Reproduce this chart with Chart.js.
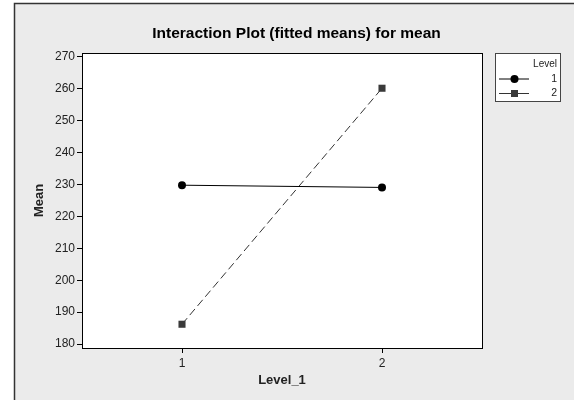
<!DOCTYPE html>
<html>
<head>
<meta charset="utf-8">
<script src="https://cdn.jsdelivr.net/npm/chart.js"></script>
<style>
  html, body { margin: 0; padding: 0; background: #fff; }
  #wrap { width: 574px; height: 400px; }
</style>
</head>
<body>
<div id="wrap"><canvas id="chart" width="574" height="400"></canvas></div>
<script>
// Data
const level1Values = [1, 2];            // x categories (Level_1)
const meansLevel1 = [229.8, 229.1];     // Level = 1
const meansLevel2 = [186.2, 260.2];     // Level = 2
const seriesNames = ["1", "2"];
const yTicks = [180, 190, 200, 210, 220, 230, 240, 250, 260, 270];
const xTicks = [1, 2];
const chartTitle = "Interaction Plot (fitted means) for mean";

const FONT = "'Liberation Sans', Arial, sans-serif";

// background, title, plot frame and legend box
const frame = {
    id: "frame",
    beforeDraw(chart) {
        const ctx = chart.ctx;
        const a = chart.chartArea;
        ctx.save();
        ctx.fillStyle = "#ebebeb";
        ctx.fillRect(15, 4, 574 - 15, 400 - 4);
        ctx.strokeStyle = "#333";
        ctx.lineWidth = 1.5;
        ctx.beginPath();
        ctx.moveTo(14.5, 400);
        ctx.lineTo(14.5, 3.5);
        ctx.lineTo(574, 3.5);
        ctx.stroke();
        ctx.fillStyle = "#fff";
        ctx.fillRect(a.left, a.top, a.right - a.left, a.bottom - a.top);
        // title (centered on the grey panel, not the plot)
        ctx.fillStyle = "#000";
        ctx.font = "bold 15.5px " + FONT;
        ctx.textAlign = "center";
        ctx.textBaseline = "middle";
        ctx.fillText(chartTitle, 296.5, 33.5);
        ctx.restore();
    },
    afterDraw(chart) {
        const ctx = chart.ctx;
        const a = chart.chartArea;
        ctx.save();
        ctx.strokeStyle = "#000";
        ctx.lineWidth = 1;
        ctx.strokeRect(Math.round(a.left) + 0.5, Math.round(a.top) + 0.5, Math.round(a.right - a.left), Math.round(a.bottom - a.top));

        // legend
        const lx = 495, ly = 53, lw = 65, lh = 48;
        ctx.fillStyle = "#fff";
        ctx.fillRect(lx, ly, lw, lh);
        ctx.strokeStyle = "#444";
        ctx.strokeRect(lx + 0.5, ly + 0.5, lw, lh);
        ctx.fillStyle = "#222";
        ctx.font = "10px " + FONT;
        ctx.textAlign = "right";
        ctx.textBaseline = "middle";
        ctx.fillText("Level", 557, 64);
        chart.data.datasets.forEach((ds, i) => {
            const y = 79 + i * 14.5;
            ctx.strokeStyle = ds.borderColor;
            ctx.lineWidth = 1;
            ctx.setLineDash([]);
            ctx.beginPath();
            ctx.moveTo(499, y);
            ctx.lineTo(529, y);
            ctx.stroke();
            ctx.fillStyle = ds.pointBackgroundColor;
            if (ds.pointStyle === "rect") {
                ctx.fillRect(511, y - 3.5, 7, 7);
            } else {
                ctx.beginPath();
                ctx.arc(514.5, y, 4, 0, Math.PI * 2);
                ctx.fill();
            }
            ctx.fillStyle = "#222";
            ctx.font = "10.5px " + FONT;
            ctx.fillText(ds.label, 557, y);
        });
        ctx.restore();
    }
};

new Chart(document.getElementById("chart"), {
    type: "line",
    data: {
        datasets: [
            {
                label: seriesNames[0],
                data: level1Values.map((x, i) => ({ x: x, y: meansLevel1[i] })),
                borderColor: "#000",
                borderWidth: 1,
                pointStyle: "circle",
                pointRadius: 4,
                pointBackgroundColor: "#000",
                pointBorderWidth: 0
            },
            {
                label: seriesNames[1],
                data: level1Values.map((x, i) => ({ x: x, y: meansLevel2[i] })),
                borderColor: "#333",
                borderWidth: 1,
                borderDash: [8, 4],
                pointStyle: "rect",
                pointRadius: 5,
                pointBackgroundColor: "#3a3a3a",
                pointBorderWidth: 0
            }
        ]
    },
    options: {
        responsive: false,
        animation: false,
        layout: { padding: { left: 15, right: 92, top: 53, bottom: 0 } },
        plugins: {
            legend: { display: false },
            tooltip: { enabled: false },
            title: { display: false }
        },
        scales: {
            x: {
                type: "linear",
                min: 0.5,
                max: 2.5,
                afterBuildTicks: s => { s.ticks = xTicks.map(v => ({ value: v })); },
                afterFit: s => { s.height = 52; },
                grid: { drawOnChartArea: false, drawTicks: true, tickLength: 5, color: "#000" },
                border: { display: true, color: "#000" },
                ticks: { color: "#222", padding: 3, font: { family: FONT, size: 12 } },
                title: {
                    display: true,
                    text: "Level_1",
                    color: "#222",
                    font: { family: FONT, size: 13, weight: "bold" },
                    padding: { top: 0, bottom: 12.2 }
                }
            },
            y: {
                min: 178.75,
                max: 271.25,
                afterBuildTicks: s => { s.ticks = yTicks.map(v => ({ value: v })); },
                afterFit: s => { s.width = 67; },
                grid: { drawOnChartArea: false, drawTicks: true, tickLength: 5, color: "#000" },
                border: { display: true, color: "#000" },
                ticks: { color: "#222", padding: 2, font: { family: FONT, size: 12 } },
                title: {
                    display: true,
                    text: "Mean",
                    color: "#222",
                    font: { family: FONT, size: 13, weight: "bold" },
                    padding: { top: 16.7, bottom: 0 }
                }
            }
        }
    },
    plugins: [frame]
});
</script>
</body>
</html>
